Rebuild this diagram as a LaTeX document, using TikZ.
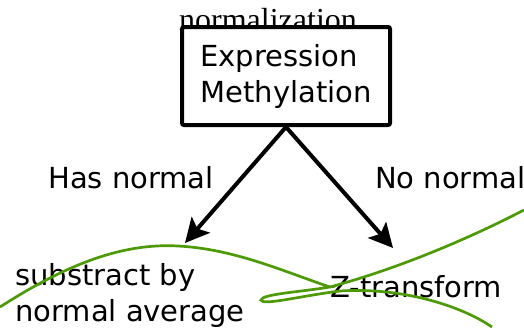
\documentclass[tikz,border=0pt]{standalone}
\usepackage{fontspec}
\setmainfont{DejaVu Sans}
\newfontfamily\serifx{Liberation Serif}
\usetikzlibrary{arrows.meta}
\definecolor{curvegreen}{HTML}{4E9A06}
\tikzset{
  lbl/.style={font=\fontsize{29}{36}\selectfont, inner sep=0pt, anchor=base west},
  decision/.style={draw, line width=4pt, rounded corners=2pt, fill=white, minimum width=208pt, minimum height=98pt, inner sep=0pt, align=left, font=\fontsize{29}{36}\selectfont},
  flow/.style={line width=4pt, -{Stealth[length=24pt,width=24pt,inset=5pt]}},
  scribble/.style={curvegreen, line width=2.7pt}
}
\begin{document}
\begin{tikzpicture}[x=1pt,y=-1pt]
\useasboundingbox (0,0) rectangle (524,327);
\node[inner sep=0pt, anchor=base, font=\serifx\fontsize{32}{36}\selectfont] (title) at (268,30) {normalization};
\node[decision] (box) at (286,76) {Expression\\Methylation};
\node[lbl] (hasn) at (48,188) {Has normal};
\node[lbl] (non) at (375,188) {No normal};
\node[lbl, align=left] (sub) at (15,321) {substract by\\normal average};
\node[lbl] (zt) at (330,297) {Z-transform};
\coordinate (ltip) at (185,243);
\coordinate (rtip) at (393,248);
\draw[flow] (box.south) -- (ltip);
\draw[flow] (box.south) -- (rtip);
\draw[scribble] (0,307) .. controls (70,262) and (125,243) .. (178,246)
  .. controls (235,249) and (285,272) .. (330,287)
  .. controls (300,292) and (262,294) .. (261,300)
  .. controls (262,306) and (300,296) .. (340,291)
  .. controls (400,287) and (460,305) .. (492,327);
\draw[scribble] (524,210) .. controls (470,238) and (400,268) .. (330,287);
\end{tikzpicture}
\end{document}
